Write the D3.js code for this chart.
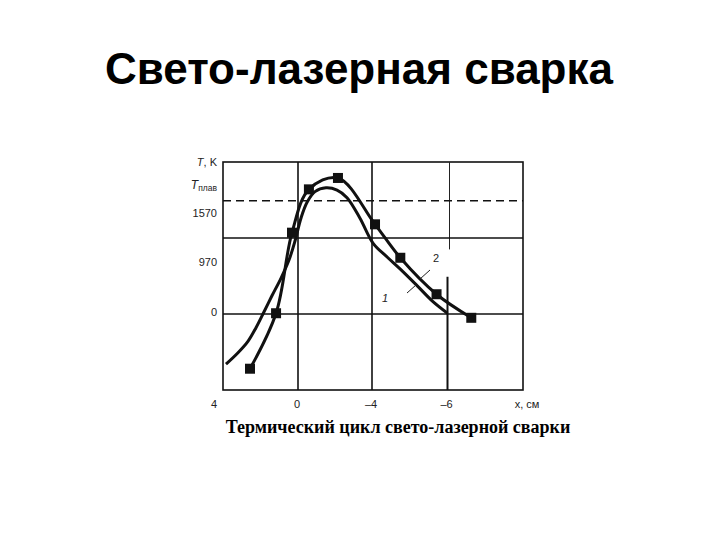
<!DOCTYPE html>
<html><head><meta charset="utf-8">
<script src="https://cdn.jsdelivr.net/npm/d3@7"></script>
<style>body{margin:0;background:#fff}</style>
</head><body>
<svg id="c" width="720" height="540"></svg>
<script>
// ---- data ----
const title = "Свето-лазерная сварка";
const caption = "Термический цикл свето-лазерной сварки";
// x axis (cm) — grid drawn at these positions, equally spaced on the figure
const xTickValues = [4, 0, -4, -6];
const xTickLabels = ["4", "0", "\u20134", "\u20136"];
const xAxisTitle = "x, см";
// y axis: values in grid rows (0 = bottom frame, 3 = top frame)
const yTickValues = [3.0, 2.70, 2.33, 1.68, 1.03];
const yTickLabels = ["T, K", "Tплав", "1570", "970", "0"];
const yMelt = 2.49;           // dashed line T_плав
// curve 2 (with square markers): x in cm, y in grid rows
const curve2X = [2.56, 1.17, 0.32, -0.59, -2.16, -4.08, -4.75, -5.71, -6.63];
const curve2Y = [0.28, 1.01, 2.07, 2.64, 2.79, 2.18, 1.74, 1.26, 0.95];
// curve 1 (no markers)
const curve1X = [3.84, 3.20, 2.67, 2.24, 1.87, 1.39, 0.91, 0.48, 0.16, -0.16, -0.49, -0.92, -1.51, -2.11, -2.65, -3.35, -4.03, -4.40, -4.75, -5.20, -5.60, -6.0];
const curve1Y = [0.34, 0.49, 0.64, 0.82, 1.00, 1.24, 1.47, 1.71, 1.96, 2.26, 2.47, 2.61, 2.66, 2.63, 2.53, 2.26, 1.93, 1.75, 1.59, 1.37, 1.17, 1.01];
const seriesLabels = ["1", "2"];

// ---- scales ----
const svg = d3.select("#c");
const x = d3.scaleLinear().domain([4, 0, -4, -6, -8]).range([223, 298, 372, 447.5, 523]);
const y = d3.scaleLinear().domain([0, 3]).range([390, 162]);

// title
svg.append("text").attr("x", 359).attr("y", 84).attr("text-anchor", "middle")
  .attr("font-family", "Liberation Sans, Arial, sans-serif").attr("font-weight", "bold")
  .attr("font-size", 44).attr("fill", "#000").text(title);

// frame and grid
const g = svg.append("g");
g.append("rect").attr("x", x(4)).attr("y", y(3)).attr("width", x(-8) - x(4)).attr("height", y(0) - y(3))
  .attr("fill", "none").attr("stroke", "#111").attr("stroke-width", 1.6);
[0, -4].forEach(v => g.append("line").attr("x1", x(v)).attr("x2", x(v)).attr("y1", y(3)).attr("y2", y(0))
  .attr("stroke", "#111").attr("stroke-width", 1.6));
g.append("line").attr("x1", x(-6) + 2).attr("x2", x(-6) + 2).attr("y1", y(3)).attr("y2", y(1.85))
  .attr("stroke", "#222").attr("stroke-width", 1);
g.append("line").attr("x1", x(-6)).attr("x2", x(-6)).attr("y1", y(1.49)).attr("y2", y(0))
  .attr("stroke", "#111").attr("stroke-width", 2);
[1, 2].forEach(v => g.append("line").attr("x1", x(4)).attr("x2", x(-8)).attr("y1", y(v)).attr("y2", y(v))
  .attr("stroke", "#111").attr("stroke-width", 1.6));
// melting line
g.append("line").attr("x1", x(4)).attr("x2", x(-8)).attr("y1", y(yMelt)).attr("y2", y(yMelt))
  .attr("stroke", "#111").attr("stroke-width", 1.6).attr("stroke-dasharray", "8,5");

// y tick labels
const tickFont = "Liberation Sans, Arial, sans-serif";
yTickLabels.forEach((lab, i) => {
  const t = svg.append("text").attr("x", 217).attr("y", y(yTickValues[i]) + 4)
    .attr("text-anchor", "end").attr("font-family", tickFont).attr("font-size", 11).attr("fill", "#222");
  if (lab === "T, K") {
    t.append("tspan").attr("font-style", "italic").text("T");
    t.append("tspan").text(", K");
  } else if (lab.startsWith("T")) {
    t.append("tspan").attr("font-style", "italic").attr("font-size", 12).text("T");
    t.append("tspan").attr("font-size", 8.5).attr("dy", 2).text(lab.slice(1));
  } else t.text(lab);
});
// x tick labels
xTickLabels.forEach((lab, i) => {
  svg.append("text").attr("x", x(xTickValues[i]) + (i === 0 ? -9 : -1)).attr("y", 408)
    .attr("text-anchor", "middle").attr("font-family", tickFont).attr("font-size", 11).attr("fill", "#222").text(lab);
});
svg.append("text").attr("x", 527).attr("y", 408).attr("text-anchor", "middle")
  .attr("font-family", tickFont).attr("font-size", 11).attr("fill", "#222").text(xAxisTitle);

// curves
const line = d3.line().x(d => x(d[0])).y(d => y(d[1])).curve(d3.curveCatmullRom.alpha(0.5));
const c1 = curve1X.map((v, i) => [v, curve1Y[i]]);
const c2 = curve2X.map((v, i) => [v, curve2Y[i]]);
svg.append("path").attr("d", line(c1)).attr("fill", "none").attr("stroke", "#111").attr("stroke-width", 3);
svg.append("path").attr("d", line(c2)).attr("fill", "none").attr("stroke", "#111").attr("stroke-width", 3);
svg.selectAll("rect.m").data(c2).enter().append("rect").attr("class", "m")
  .attr("x", d => x(d[0]) - 5).attr("y", d => y(d[1]) - 5).attr("width", 10).attr("height", 10).attr("fill", "#111");

// series labels with leader lines
svg.append("text").attr("x", 385).attr("y", 302).attr("text-anchor", "middle").attr("font-family", tickFont)
  .attr("font-style", "italic").attr("font-size", 11).attr("fill", "#222").text(seriesLabels[0]);
svg.append("line").attr("x1", 407).attr("y1", 293).attr("x2", 416).attr("y2", 285).attr("stroke", "#222").attr("stroke-width", 1);
svg.append("text").attr("x", 436).attr("y", 262).attr("text-anchor", "middle").attr("font-family", tickFont)
  .attr("font-size", 11).attr("fill", "#222").text(seriesLabels[1]);
svg.append("line").attr("x1", 420).attr("y1", 279).attr("x2", 430).attr("y2", 270).attr("stroke", "#222").attr("stroke-width", 1);

// caption
svg.append("text").attr("x", 398).attr("y", 433).attr("text-anchor", "middle")
  .attr("font-family", "Liberation Serif, Times New Roman, serif").attr("font-weight", "bold")
  .attr("font-size", 18).attr("fill", "#000").text(caption);
</script>
</body></html>
